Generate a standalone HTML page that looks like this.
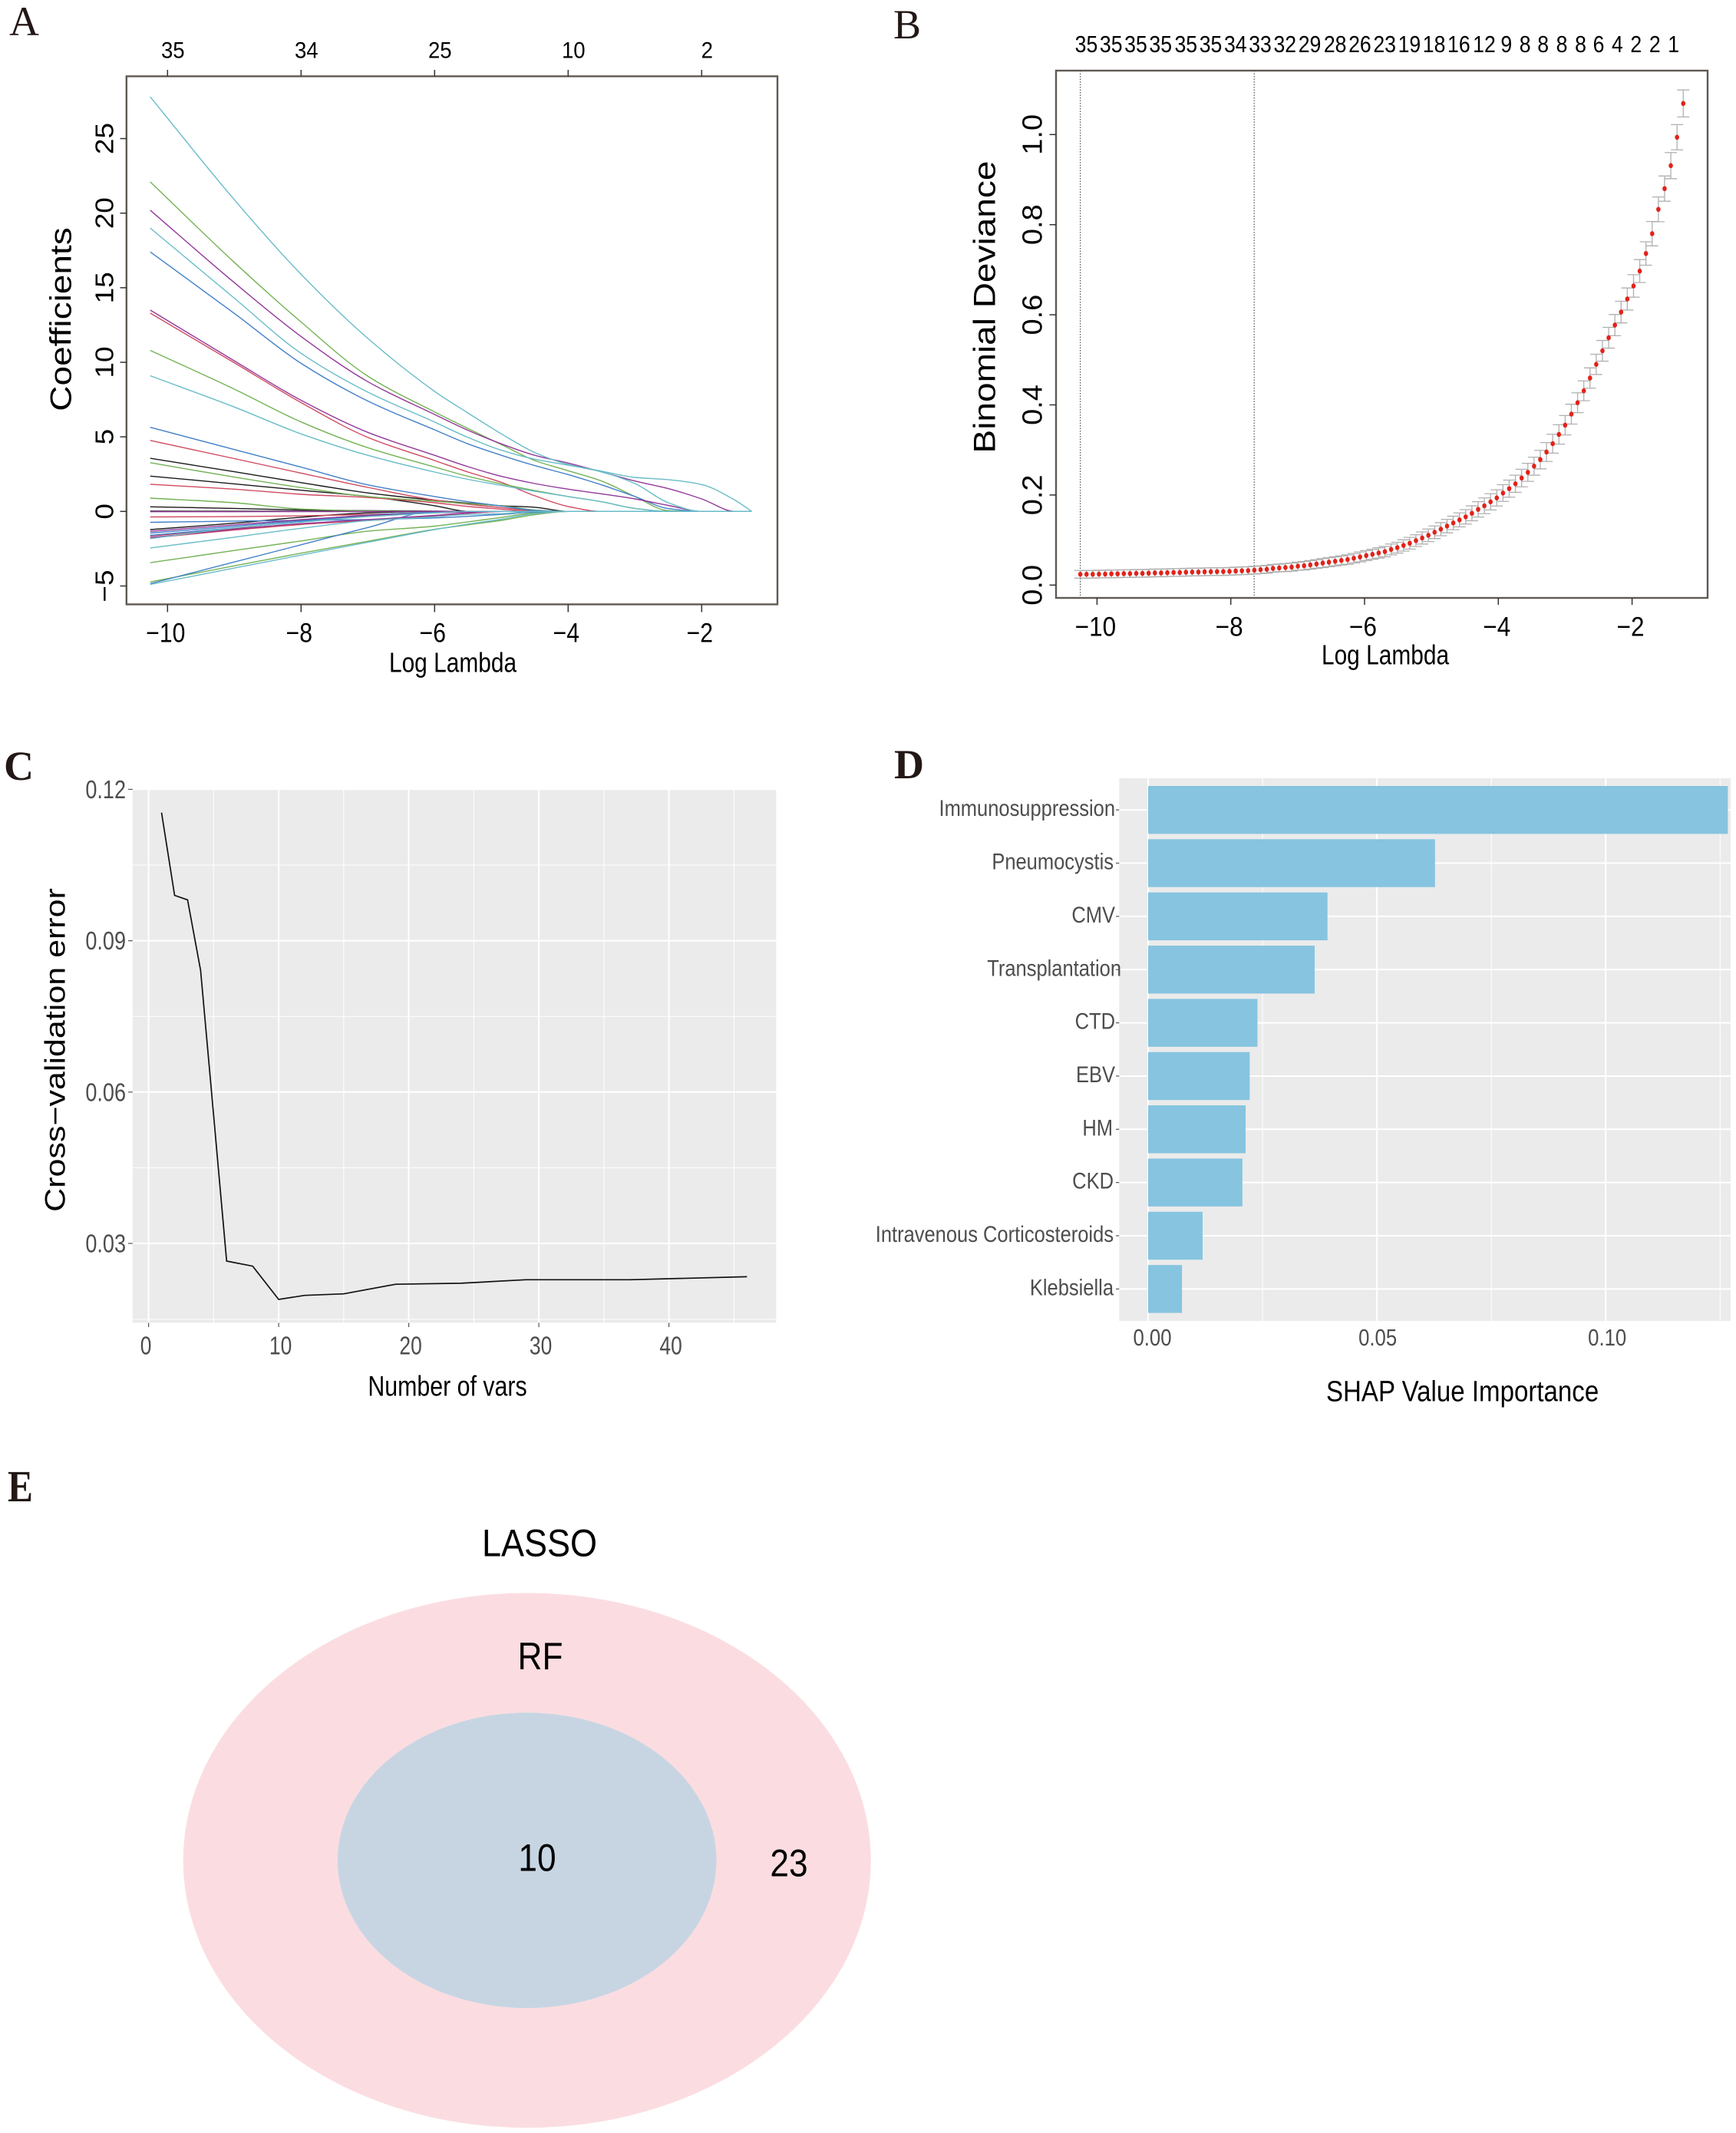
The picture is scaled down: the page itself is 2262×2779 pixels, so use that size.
<!DOCTYPE html>
<html lang="en">
<head>
<meta charset="utf-8">
<title>Feature selection figure</title>
<style>
html,body{margin:0;padding:0;background:#fff;}
svg{display:block;font-family:"Liberation Sans",Arial,sans-serif;}
</style>
</head>
<body>
<svg id="figure" xmlns="http://www.w3.org/2000/svg" width="2262" height="2779" viewBox="0 0 2262 2779">
  <rect x="0" y="0" width="2262" height="2779" fill="#fff"/>
  <g id="panelA"></g>
  <g id="panelB"></g>
  <g id="panelC"></g>
  <g id="panelD"></g>
  <g id="panelE">
    <ellipse cx="686.7" cy="2423.8" rx="448" ry="348.4" fill="#fbdde1"/>
    <ellipse cx="686.7" cy="2423.8" rx="246.8" ry="192.4" fill="#c7d5e3"/>
    <text transform="translate(703,2027.5) scale(.9,1)" text-anchor="middle" font-size="50" fill="#000">LASSO</text>
    <text transform="translate(704,2175) scale(.885,1)" text-anchor="middle" font-size="50" fill="#000">RF</text>
    <text transform="translate(700,2437.5) scale(.885,1)" text-anchor="middle" font-size="50" fill="#000">10</text>
    <text transform="translate(1028,2444.4) scale(.885,1)" text-anchor="middle" font-size="50" fill="#000">23</text>
  </g>
  <g font-family="'Liberation Serif',serif" fill="#231815">
    <text x="12" y="46" font-size="54">A</text>
    <text x="1164" y="50" font-size="54">B</text>
    <text x="5" y="1016" font-size="54" font-weight="bold">C</text>
    <text x="1165" y="1014" font-size="54" font-weight="bold">D</text>
    <text transform="translate(10,1956) scale(.85,1)" font-size="58" font-weight="bold">E</text>
  </g>
</svg>
<script>
/* ---------- Panel A data: LASSO coefficient paths ---------- */
const lambdaGridA = [-10.26,-9,-8,-7,-6,-5.5,-5,-4.5,-4,-3.5,-3,-2.5,-2,-1.5,-1.25];
const coefBlack1 = [3.56,2.66,1.93,1.24,.75,.55,.38,.28,0,0,0,0,0,0,0];
const coefBlack2 = [2.37,1.85,1.42,1,.38,0,0,0,0,0,0,0,0,0,0];
const coefBlack3 = [.31,.2,.1,.05,.02,0,0,0,0,0,0,0,0,0,0];
const coefBlack4 = [.02,.01,.01,0,0,0,0,0,0,0,0,0,0,0,0];
const coefBlack5 = [-1.22,-.79,-.39,-.1,0,0,0,0,0,0,0,0,0,0,0];
const coefRed1 = [13.3,9.97,7.3,4.96,3.41,2.64,1.95,1.05,.33,0,0,0,0,0,0];
const coefRed2 = [4.76,3.54,2.57,1.61,.76,.48,.25,.05,0,0,0,0,0,0,0];
const coefRed3 = [1.82,1.49,1.15,.93,.58,.33,.15,0,0,0,0,0,0,0,0];
const coefRed4 = [-.37,-.35,-.3,-.2,-.08,0,0,0,0,0,0,0,0,0,0];
const coefRed5 = [-1.79,-1.25,-.88,-.6,-.3,-.12,0,0,0,0,0,0,0,0,0];
const coefRed6 = [-1.65,-1.15,-.85,-.62,-.33,-.13,0,0,0,0,0,0,0,0,0];
const coefGreen1 = [22.1,16.7,12.7,9.07,6.67,5.56,4.48,3.41,2.73,2.04,1,.05,0,0,0];
const coefGreen2 = [10.8,8.2,6,4.27,2.98,2.35,1.85,1.4,1,.65,.2,0,0,0,0];
const coefGreen3 = [3.27,2.3,1.6,1,.68,.52,.38,.1,0,0,0,0,0,0,0];
const coefGreen4 = [.89,.58,.16,.03,0,0,0,0,0,0,0,0,0,0,0];
const coefGreen5 = [-3.44,-2.62,-1.98,-1.33,-.99,-.7,-.4,-.1,0,0,0,0,0,0,0];
const coefGreen6 = [-4.73,-3.65,-2.8,-2,-1.2,-.9,-.6,-.22,0,0,0,0,0,0,0];
const coefBlue1 = [17.4,13.28,9.93,7.4,5.47,4.53,3.76,3.07,2.47,1.78,1,.19,0,0,0];
const coefBlue2 = [5.64,4.15,2.97,1.78,1,.65,.36,.07,0,0,0,0,0,0,0];
const coefBlue3 = [-.73,-.65,-.6,-.55,-.44,-.33,-.2,-.04,0,0,0,0,0,0,0];
const coefBlue4 = [-1.6,-1.1,-.68,-.3,-.08,0,0,0,0,0,0,0,0,0,0];
const coefBlue5 = [-1.45,-1,-.6,-.25,-.05,0,0,0,0,0,0,0,0,0,0];
const coefBlue6 = [-4.85,-3.39,-2.24,-1.08,0,0,0,0,0,0,0,0,0,0,0];
const coefPurple1 = [20.2,15.34,11.73,8.7,6.5,5.44,4.53,3.76,3.24,2.65,2.04,1.53,.84,0,0];
const coefPurple2 = [13.5,10.1,7.45,5.3,3.76,3,2.35,1.87,1.49,1.18,.84,.4,0,0,0];
const coefPurple3 = [-1.34,-.9,-.55,-.28,-.1,-.04,0,0,0,0,0,0,0,0,0];
const coefPurple4 = [-.02,-.02,-.01,-.01,0,0,0,0,0,0,0,0,0,0,0];
const coefPurple5 = [-1.75,-1.2,-.82,-.55,-.27,-.1,0,0,0,0,0,0,0,0,0];
const coefTeal2 = [19,14.3,10.6,8,5.99,4.96,4.1,3.5,3.1,2.65,1.87,.58,0,0,0];
const coefTeal3 = [9.1,7,5.2,3.76,2.64,2.15,1.75,1.35,1,.65,.2,0,0,0,0];
const coefTeal4 = [-1.82,-1.1,-.72,-.35,-.1,0,0,0,0,0,0,0,0,0,0];
const coefTeal5 = [-2.45,-1.73,-1.13,-.62,-.36,-.2,-.15,0,0,0,0,0,0,0,0];
const coefTeal6 = [-4.9,-3.8,-2.93,-2.07,-1.22,-.85,-.52,-.15,0,0,0,0,0,0,0];
const coefTeal1 = [27.8,20.9,15.9,11.6,8.05,6.6,5.2,3.95,3.15,2.7,2.28,2.13,1.8,.75,0];
const coefSeries = [coefBlack1,coefBlack2,coefBlack3,coefBlack4,coefBlack5,coefRed1,coefRed2,coefRed3,coefRed4,coefRed5,coefRed6,coefGreen1,coefGreen2,coefGreen3,coefGreen4,coefGreen5,coefGreen6,coefBlue1,coefBlue2,coefBlue3,coefBlue4,coefBlue5,coefBlue6,coefPurple1,coefPurple2,coefPurple3,coefPurple4,coefPurple5,coefTeal2,coefTeal3,coefTeal4,coefTeal5,coefTeal6,coefTeal1];
const coefColorNames = ["k","k","k","k","k","r","r","r","r","r","r","g","g","g","g","g","g","b","b","b","b","b","b","p","p","p","p","p","t","t","t","t","t","t"];
const xTicksA = [-10,-8,-6,-4,-2];
const xTickLabelsA = ["−10","−8","−6","−4","−2"];
const yTicksA = [-5,0,5,10,15,20,25];
const yTickLabelsA = ["−5","0","5","10","15","20","25"];
const topTicksA = [-10,-8,-6,-4,-2];
const topLabelsA = ["35","34","25","10","2"];

/* ---------- Panel B data: cross-validated deviance ---------- */
const logLambdaFirstB = -10.25;
const logLambdaLastB = -1.235;
const devianceB = [
.0240,.0240,.0240,.0245,.0245,.0250,.0250,.0255,.0255,.0260,.0260,.0265,.0270,.0270,.0275,.0280,.0280,.0285,.0290,.0290,.0295,.0298,.0299,
.0300,.0305,.0312,.0318,.0322,.0332,.0342,.0351,.0371,.0381,
.0390,.0400,.0420,.0430,.0449,.0469,.0489,.0508,.0528,.0547,
.0567,.0596,.0625,.0655,.0684,.0713,.0743,.0792,.0831,.0880,
.0929,.0987,.1046,.1105,.1173,.1241,.1310,.1379,.1447,.1515,
.1594,.1681,.1760,.1848,.1936,.2043,.2141,.2249,.2376,.2503,
.2640,.2786,.2953,.3139,.3344,.3549,.3794,.4048,.4312,.4596,
.4899,.520,.549,.577,.606,.635,.664,.697,.736,.780,
.834,.880,.931,.994,1.069];
const devianceSeB = [
.0085,.0085,.0085,.0085,.0085,.0085,.0085,.0085,.0085,.0085,.0085,.0085,.0085,.0085,.0085,.0085,.0085,.0085,.0085,.0085,.0085,.0085,.0085,
.0085,.0085,.0085,.0085,.0085,.0085,.0085,.0085,.0085,.0085,
.009,.009,.009,.0095,.0095,.0095,.01,.01,.01,.01,
.0105,.0105,.011,.011,.011,.0115,.0115,.012,.012,.0125,
.013,.013,.0135,.014,.014,.0145,.015,.015,.0155,.016,
.0165,.017,.0175,.018,.018,.0185,.019,.019,.0195,.02,
.02,.0205,.021,.021,.0215,.0215,.022,.022,.022,.0225,
.0225,.023,.023,.0235,.024,.0245,.025,.0255,.026,.027,
.0275,.028,.029,.028,.03];
const xTicksB = [-10,-8,-6,-4,-2];
const xTickLabelsB = ["−10","−8","−6","−4","−2"];
const yTicksB = [0,.2,.4,.6,.8,1];
const yTickLabelsB = ["0.0","0.2","0.4","0.6","0.8","1.0"];
const selectedLambdasB = [-10.25,-7.65];
const topLabelsB = ["35","35","35","35","35","35","34","33","32","29","28","26","23","19","18","16","12","9","8","8","8","8","6","4","2","2","1"];
const topLabelLambdasB = [-10.16,-9.79,-9.42,-9.05,-8.67,-8.3,-7.93,-7.56,-7.19,-6.82,-6.44,-6.07,-5.7,-5.33,-4.96,-4.59,-4.21,-3.88,-3.6,-3.33,-3.05,-2.77,-2.5,-2.22,-1.94,-1.66,-1.38];

/* ---------- Panel C data: RF cross-validation error ---------- */
const numVarsC = [1,2,3,4,5,6,8,10,12,15,19,24,29,37,46];
const cvErrorC = [.1154,.099,.0981,.0841,.0553,.0265,.0255,.0189,.0197,.02,.0219,.0221,.0228,.0228,.0234];
const xTicksC = [0,10,20,30,40];
const xMinorC = [5,15,25,35,45];
const yTicksC = [.03,.06,.09,.12];
const yMinorC = [.015,.045,.075,.105];
const yTickLabelsC = ["0.03","0.06","0.09","0.12"];

/* ---------- Panel D data: SHAP importance ---------- */
const featuresD = ["Immunosuppression","Pneumocystis","CMV","Transplantation","CTD","EBV","HM","CKD","Intravenous Corticosteroids","Klebsiella"];
const shapD = [.1267,.0627,.0392,.0364,.0239,.0222,.0213,.0206,.0119,.0074];
const xTicksD = [0,.05,.1];
const xMinorD = [.025,.075,.125];
const xTickLabelsD = ["0.00","0.05","0.10"];

/* ---------- Helpers ---------- */
const NS = "http://www.w3.org/2000/svg";
function mk(tag, attrs, parent) {
  const e = document.createElementNS(NS, tag);
  for (const k in attrs) e.setAttribute(k, attrs[k]);
  parent.appendChild(e);
  return e;
}
function txt(parent, str, cx, cy, size, sx, opts) {
  const o = opts || {};
  const anchor = o.anchor || "middle";
  const fill = o.fill || "#000";
  let tr;
  if (o.rot) {
    tr = "translate(" + (cx + .35 * size * sx) + "," + cy + ") scale(" + sx + ",1) rotate(-90)";
  } else {
    tr = "translate(" + cx + "," + (cy + .35 * size) + ") scale(" + sx + ",1)";
  }
  const e = mk("text", {transform: tr, "text-anchor": anchor, "font-size": size, fill: fill}, parent);
  e.textContent = str;
  return e;
}
function monoPath(xs, ys) {
  const n = xs.length, d = [], m = [];
  for (let i = 0; i < n - 1; i++) d.push((ys[i + 1] - ys[i]) / (xs[i + 1] - xs[i]));
  m.push(d[0]);
  for (let i = 1; i < n - 1; i++) m.push(d[i - 1] * d[i] <= 0 ? 0 : 2 * d[i - 1] * d[i] / (d[i - 1] + d[i]));
  m.push(d[n - 2]);
  let p = "M" + xs[0].toFixed(1) + " " + ys[0].toFixed(1);
  for (let i = 0; i < n - 1; i++) {
    const h = (xs[i + 1] - xs[i]) / 3;
    p += "C" + (xs[i] + h).toFixed(1) + " " + (ys[i] + m[i] * h).toFixed(1) + " " + (xs[i + 1] - h).toFixed(1) + " " + (ys[i + 1] - m[i + 1] * h).toFixed(1) + " " + xs[i + 1].toFixed(1) + " " + ys[i + 1].toFixed(1);
  }
  return p;
}
let el;

/* ---------- Panel A ---------- */
const gA = document.getElementById("panelA");
const xA = v => 218.3 + (v + 10) * 87;
const yA = v => 666.3 - v * 19.43;
const colorMapA = {k: "#1a1a1a", r: "#cf4a60", g: "#74b255", b: "#4280c8", p: "#93399a", t: "#68bcc8"};
coefSeries.forEach((vals, i) => {
  el = mk("path", {d: monoPath(lambdaGridA.map(xA), vals.map(yA)), fill: "none", stroke: colorMapA[coefColorNames[i]], "stroke-width": 1.4}, gA);
  
  
});
el = mk("rect", {x: 164.8, y: 99.4, width: 848.2, height: 688, fill: "none", stroke: "#5f5a53", "stroke-width": 2.4}, gA);


xTicksA.forEach((v, i) => {
  el = mk("line", {x1: xA(v), x2: xA(v), y1: 787.5, y2: 797.5, stroke: "#333", "stroke-width": 1.5}, gA);
  
  
  el = txt(gA, xTickLabelsA[i], xA(v) - 2.5, 824, 35, .86);
  
  
});
topTicksA.forEach((v, i) => {
  el = mk("line", {x1: xA(v), x2: xA(v), y1: 99.4, y2: 91, stroke: "#333", "stroke-width": 1.5}, gA);
  
  
  el = txt(gA, topLabelsA[i], xA(v) + 7, 65, 30, .92);
  
  
});
yTicksA.forEach((v, i) => {
  el = mk("line", {x1: 156.5, x2: 164.8, y1: yA(v), y2: yA(v), stroke: "#333", "stroke-width": 1.5}, gA);
  
  
  el = txt(gA, yTickLabelsA[i], 136, yA(v), 37, .9, {rot: true});
  
  
});
el = txt(gA, "Log Lambda", 590, 863, 36, .83);


el = txt(gA, "Coefficients", 79, 416, 46, .85, {rot: true});



/* ---------- Panel B ---------- */
const gB = document.getElementById("panelB");
const xB = v => 1429.4 + (v + 10) * 87.15;
const yB = v => 762.3 - v * 587;
const logLambdaStepB = (logLambdaLastB - logLambdaFirstB) / (devianceB.length - 1);
selectedLambdasB.forEach(v => {
  el = mk("line", {x1: xB(v), x2: xB(v), y1: 92, y2: 779, stroke: "#444", "stroke-width": 1.1, "stroke-dasharray": "1.5 2"}, gB);
  
  
});
devianceB.forEach((v, i) => {
  const px = xB(logLambdaFirstB + i * logLambdaStepB);
  const up = yB(v + devianceSeB[i]);
  const lo = yB(v - devianceSeB[i]);
  el = mk("path", {d: "M" + px + " " + up + "V" + lo + "M" + (px - 8) + " " + up + "H" + (px + 8) + "M" + (px - 8) + " " + lo + "H" + (px + 8), fill: "none", stroke: "#b0b0b0", "stroke-width": 1.3}, gB);
  
  
});
devianceB.forEach((v, i) => {
  const px = xB(logLambdaFirstB + i * logLambdaStepB);
  el = mk("ellipse", {cx: px, cy: yB(v), rx: 2.8, ry: 3.3, fill: "#e2231a"}, gB);
  
  
});
el = mk("rect", {x: 1376, y: 92, width: 849, height: 687, fill: "none", stroke: "#5f5a53", "stroke-width": 2.4}, gB);


xTicksB.forEach((v, i) => {
  el = mk("line", {x1: xB(v), x2: xB(v), y1: 779, y2: 788, stroke: "#333", "stroke-width": 1.5}, gB);
  
  
  el = txt(gB, xTickLabelsB[i], xB(v) - 2, 816, 35, .9);
  
  
});
yTicksB.forEach((v, i) => {
  el = mk("line", {x1: 1367.5, x2: 1376, y1: yB(v), y2: yB(v), stroke: "#333", "stroke-width": 1.5}, gB);
  
  
  el = txt(gB, yTickLabelsB[i], 1345, yB(v), 38, .94, {rot: true});
  
  
});
topLabelsB.forEach((s, i) => {
  el = txt(gB, s, xB(topLabelLambdasB[i]), 57, 31, .86);
  
  
});
el = txt(gB, "Log Lambda", 1805, 853, 36, .83);


el = txt(gB, "Binomial Deviance", 1282.6, 400, 46, .87, {rot: true});



/* ---------- Panel C ---------- */
const gC = document.getElementById("panelC");
const xC = v => 193.6 + v * 16.95;
const yC = v => 1620 - (v - .03) * 6573;
const xLabelNudgeC = [-3.5,2.5,2.5,2.5,2.5];
el = mk("rect", {x: 172.8, y: 1027.7, width: 838.6, height: 695.8, fill: "#ebebeb"}, gC);


xMinorC.forEach(v => {
  el = mk("line", {x1: xC(v), x2: xC(v), y1: 1027.7, y2: 1723.5, stroke: "#fff", "stroke-width": 1}, gC);
  
  
});
yMinorC.forEach(v => {
  el = mk("line", {x1: 172.8, x2: 1011.4, y1: yC(v), y2: yC(v), stroke: "#fff", "stroke-width": 1}, gC);
  
  
});
xTicksC.forEach((v, i) => {
  el = mk("line", {x1: xC(v), x2: xC(v), y1: 1027.7, y2: 1723.5, stroke: "#fff", "stroke-width": 2}, gC);
  
  
  el = mk("line", {x1: xC(v), x2: xC(v), y1: 1723.5, y2: 1729, stroke: "#555", "stroke-width": 1.2}, gC);
  
  
  el = txt(gC, String(v), xC(v) + xLabelNudgeC[i], 1753, 33, .8, {fill: "#4d4d4d"});
  
  
});
yTicksC.forEach((v, i) => {
  el = mk("line", {x1: 172.8, x2: 1011.4, y1: yC(v), y2: yC(v), stroke: "#fff", "stroke-width": 2}, gC);
  
  
  el = mk("line", {x1: 167, x2: 172.8, y1: yC(v), y2: yC(v), stroke: "#555", "stroke-width": 1.2}, gC);
  
  
  el = txt(gC, yTickLabelsC[i], 164, yC(v), 33, .82, {anchor: "end", fill: "#4d4d4d"});
  
  
});
el = mk("polyline", {points: numVarsC.map((v, i) => xC(v).toFixed(1) + "," + yC(cvErrorC[i]).toFixed(1)).join(" "), fill: "none", stroke: "#111", "stroke-width": 1.7}, gC);


el = txt(gC, "Number of vars", 583, 1805.6, 37, .82);


el = txt(gC, "Cross−validation error", 71.7, 1368, 43, .86, {rot: true});



/* ---------- Panel D ---------- */
const gD = document.getElementById("panelD");
const xD = v => 1496 + v * 5962;
const yD = i => 1055.2 + i * 69.35;
const labelNudgeD = [0,-2,0,8,0,0,-3,-2,-2,-2];
const xLabelNudgeD = [5.5,1,2];
el = mk("rect", {x: 1458.3, y: 1014, width: 796.7, height: 707, fill: "#ebebeb"}, gD);


xMinorD.forEach(v => {
  el = mk("line", {x1: xD(v), x2: xD(v), y1: 1014, y2: 1721, stroke: "#fff", "stroke-width": 1}, gD);
  
  
});
xTicksD.forEach((v, i) => {
  el = mk("line", {x1: xD(v), x2: xD(v), y1: 1014, y2: 1721, stroke: "#fff", "stroke-width": 2}, gD);
  
  
  el = txt(gD, xTickLabelsD[i], xD(v) + xLabelNudgeD[i], 1742, 31, .83, {fill: "#4d4d4d"});
  
  
});
featuresD.forEach((name, i) => {
  el = mk("line", {x1: 1458.3, x2: 2255, y1: yD(i), y2: yD(i), stroke: "#fff", "stroke-width": 2}, gD);
  
  
  el = mk("line", {x1: 1454, x2: 1458.3, y1: yD(i), y2: yD(i), stroke: "#555", "stroke-width": 1.2}, gD);
  
  
  el = txt(gD, name, 1453 + labelNudgeD[i], yD(i) - 2.5, 30, .85, {anchor: "end", fill: "#4d4d4d"});
  
  
});
shapD.forEach((v, i) => {
  el = mk("rect", {x: xD(0), y: yD(i) - 31.2, width: xD(v) - xD(0), height: 62.4, fill: "#86c4e0"}, gD);
  
  
});
el = txt(gD, "SHAP Value Importance", 1905.6, 1812, 38, .87);


</script>
</body>
</html>
